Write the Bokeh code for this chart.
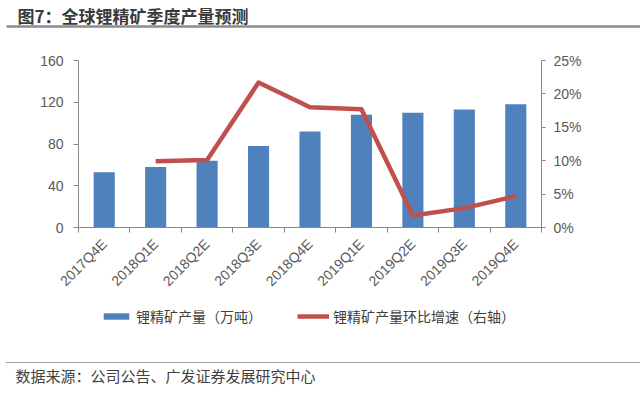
import math
import numpy as np
from bokeh.plotting import figure
from bokeh.models import (Range1d, LinearAxis, FixedTicker, PrintfTickFormatter,
                          Legend, LegendItem, Label, ColumnDataSource)
from bokeh.layouts import column
from bokeh.embed import file_html
from bokeh.resources import INLINE
from bokeh.core.properties import value

# ---------------- data ----------------
title_text = "图7：全球锂精矿季度产量预测"
source_text = "数据来源：公司公告、广发证券发展研究中心"
categories = ["2017Q4E", "2018Q1E", "2018Q2E", "2018Q3E", "2018Q4E",
              "2019Q1E", "2019Q2E", "2019Q3E", "2019Q4E"]
output_wt = [53, 58, 64, 78, 92, 108, 110, 113, 118]          # 万吨
growth_pct = [np.nan, 9.9, 10.1, 21.7, 18.0, 17.7, 1.8, 2.9, 4.7]  # %
left_ticks = [0, 40, 80, 120, 160]
right_ticks = [0, 5, 10, 15, 20, 25]
bar_name = "锂精矿产量（万吨）"
line_name = "锂精矿产量环比增速（右轴）"

BAR_COLOR = "#4F81BD"
LINE_COLOR = "#C0504D"
AXIS_COLOR = "#868686"
TEXT_COLOR = "#595959"
LAT = "Liberation Sans"

W = 640


def blank_fig(h):
    f = figure(width=W, height=h, x_range=Range1d(0, W), y_range=Range1d(h, 0),
               min_border=0, x_axis_location=None, y_axis_location=None,
               outline_line_color=None, output_backend="svg", toolbar_location=None,
               frame_align=False)
    f.grid.visible = False
    return f


# ---------------- header ----------------
hdr = blank_fig(38)
hdr.segment(x0=[6], y0=[26], x1=[W], y1=[26], line_width=2.5, line_color="#8C8C8C")
hdr.add_layout(Label(x=17, y=14.5, text=title_text, text_baseline="middle", text_align="left",
                     text_font="Noto Sans CJK SC", text_font_style="bold",
                     text_font_size="17px", text_color="#3A3A3A"))

# ---------------- main chart ----------------
n = len(categories)
xs = list(range(n))
src = ColumnDataSource(dict(x=xs, cat=categories, out=output_wt, g=growth_pct))

p = figure(width=W, height=262, x_range=Range1d(-0.5, n - 0.5), y_range=Range1d(0, 160),
           min_border_left=78, min_border_right=99, min_border_top=22, min_border_bottom=73,
           output_backend="svg", toolbar_location=None, outline_line_color=None,
           frame_align=False)
p.grid.visible = False
p.extra_y_ranges = {"pct": Range1d(0, 25)}

bars = p.vbar(x="x", top="out", width=0.41, source=src, fill_color=BAR_COLOR, line_color=None)
line = p.line(x="x", y="g", source=src, y_range_name="pct", line_color=LINE_COLOR,
              line_width=4.5, line_join="round")

# x axis
xa = p.xaxis[0]
xa.ticker = FixedTicker(ticks=xs, minor_ticks=[i - 0.5 for i in range(n + 1)])
xa.major_label_overrides = {i: c for i, c in zip(xs, categories)}
xa.major_label_orientation = math.pi / 4
xa.major_tick_in = 0
xa.major_tick_out = 0
xa.minor_tick_in = 0
xa.minor_tick_out = 5
xa.minor_tick_line_color = AXIS_COLOR
xa.axis_line_color = AXIS_COLOR
xa.major_label_text_font = LAT
xa.major_label_text_font_size = "14px"
xa.major_label_text_color = TEXT_COLOR
xa.major_label_standoff = 9

# left axis
ya = p.yaxis[0]
ya.ticker = FixedTicker(ticks=left_ticks)
ya.major_tick_in = 0
ya.major_tick_out = 5
ya.minor_tick_line_color = None
ya.axis_line_color = AXIS_COLOR
ya.major_tick_line_color = AXIS_COLOR
ya.major_label_text_font = LAT
ya.major_label_text_font_size = "14px"
ya.major_label_text_color = TEXT_COLOR
ya.major_label_standoff = 10

# right axis
ra = LinearAxis(y_range_name="pct", ticker=FixedTicker(ticks=right_ticks),
                formatter=PrintfTickFormatter(format="%d%%"))
ra.major_tick_in = 0
ra.major_tick_out = 4
ra.minor_tick_line_color = None
ra.axis_line_color = AXIS_COLOR
ra.major_tick_line_color = AXIS_COLOR
ra.major_label_text_font = LAT
ra.major_label_text_font_size = "14px"
ra.major_label_text_color = TEXT_COLOR
ra.major_label_standoff = 8
p.add_layout(ra, "right")

# ---------------- legend ----------------
lg = blank_fig(40)
# legend proxies with no drawable data (NaN), only their styles are used by the legend
lg_bar = lg.vbar(x=[np.nan], top=[np.nan], width=1, fill_color=BAR_COLOR, line_color=None)
lg_line = lg.line(x=[np.nan, np.nan], y=[np.nan, np.nan], line_color=LINE_COLOR, line_width=4.5)
legend = Legend(items=[LegendItem(label=bar_name, renderers=[lg_bar]),
                       LegendItem(label=line_name, renderers=[lg_line])],
                orientation="horizontal", location=(100, 14), padding=0, margin=0,
                spacing=35, glyph_width=32, glyph_height=8, label_standoff=4,
                border_line_color=None, background_fill_alpha=0,
                label_text_font="Noto Sans CJK SC", label_text_font_size="14px",
                label_text_color="#404040")
lg.add_layout(legend)

# ---------------- footer ----------------
ftr = blank_fig(53)
ftr.segment(x0=[5], y0=[22], x1=[W], y1=[22], line_width=1, line_color="#A0A0A0")
ftr.add_layout(Label(x=15, y=35, text=source_text, text_baseline="middle", text_align="left",
                     text_font="Noto Sans CJK SC", text_font_size="15px", text_color="#404040"))

layout = column(hdr, p, lg, ftr, spacing=0)
open("out.html", "w").write(file_html(layout, INLINE))
